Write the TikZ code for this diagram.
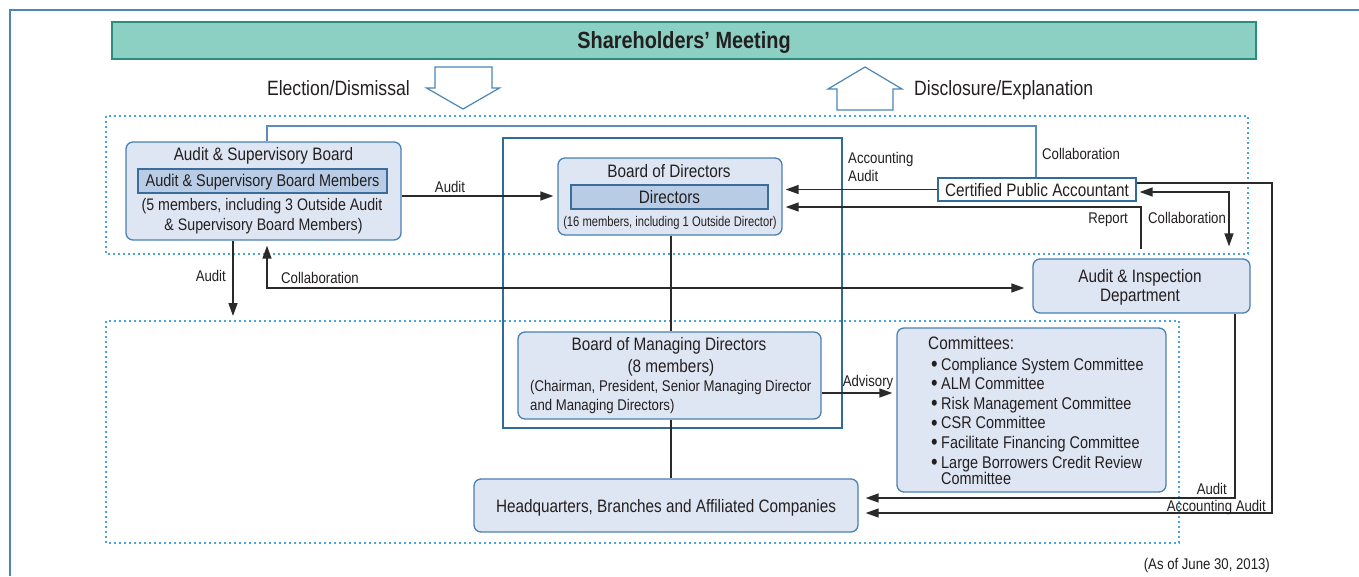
\documentclass[tikz,border=0pt]{standalone}
\usepackage{fontspec}
\setmainfont{Liberation Sans}[FakeStretch=0.85]
\usetikzlibrary{arrows.meta}

\definecolor{ink}{HTML}{231F20}
\definecolor{panelfill}{HTML}{DFE6F3}
\definecolor{panelline}{HTML}{4A80B2}
\definecolor{innerfill}{HTML}{B9CCE6}
\definecolor{innerline}{HTML}{3B6C9A}
\definecolor{dotblue}{HTML}{45A5DC}
\definecolor{edgeblue}{HTML}{4A86B6}
\definecolor{framedark}{HTML}{2F6B9B}
\definecolor{meetfill}{HTML}{8BD0C3}
\definecolor{meetline}{HTML}{2D8C7E}
\definecolor{wire}{HTML}{2A2A2A}
\definecolor{liaison}{HTML}{5A8DBD}

\newcommand\sz[1]{\fontsize{#1}{#1}\selectfont}
% bullet of the committee list, a little larger than the text
\newcommand\combullet{\makebox[10pt][l]{\raisebox{-1.5pt}{\sz{22}•}}}

\tikzset{
  every node/.style={inner sep=0pt, text=ink},
  panel/.style={draw=panelline, fill=panelfill, line width=1.3pt, rounded corners=7pt},
  innerpanel/.style={draw=innerline, fill=innerfill, line width=1.2pt},
  region/.style={draw=dotblue, line width=2pt, dash pattern=on 2pt off 3pt},
  conn/.style={draw=wire, line width=1.4pt},
  arr/.style={conn, -{Triangle[length=13pt,width=9pt]}},
  biarr/.style={conn, {Triangle[length=13pt,width=9pt]}-{Triangle[length=13pt,width=9pt]}},
  hollow/.style={draw=edgeblue, fill=white, line width=1.2pt, line join=miter},
  lbl/.style={font=\sz{15.5}},
  main/.style={font=\sz{18}},
}

\begin{document}
\begin{tikzpicture}[x=1pt, y=-1pt]
\useasboundingbox (0,0) rectangle (1359,576);

% outer page frame
\draw[edgeblue, line width=2.4pt] (10,576) -- (10,10) -- (1359,10);

% shareholders' meeting bar
\node[draw=meetline, fill=meetfill, line width=1.5pt, minimum width=1144pt, minimum height=37pt] (meet) at (684,40.5) {};
\node[anchor=base, font=\bfseries\sz{23.4}] (meetT) at (684,48.5) {Shareholders’ Meeting};

% block arrows
\draw[hollow] (435,67) -- (492,67) -- (492,88) -- (499.5,88) -- (463,109) -- (426.5,88) -- (435,88) -- cycle;
\draw[hollow] (865,67) -- (902,89) -- (893,89) -- (893,110) -- (837,110) -- (837,89) -- (828,89) -- cycle;
\node[anchor=base east, font=\sz{20.7}] (elT) at (410,95) {Election/Dismissal};
\node[anchor=base west, font=\sz{20.7}] (diT) at (914,95) {Disclosure/Explanation};

% dotted regions
\draw[region] (106,116) rectangle (1248,254);
\draw[region] (106,321) rectangle (1179,543);

% board frame
\draw[framedark, line width=1.3pt] (503,138) rectangle (842,428);

% panels
\node[panel, minimum width=275pt, minimum height=98pt] (asb) at (263.5,191) {};
\node[innerpanel, minimum width=249pt, minimum height=24pt] (asbm) at (262.5,181) {};
\node[panel, minimum width=224pt, minimum height=77pt] (bod) at (670,196.5) {};
\node[innerpanel, minimum width=197pt, minimum height=24pt] (dir) at (669.5,197) {};
\node[draw=framedark, fill=white, line width=1.3pt, minimum width=198pt, minimum height=23pt] (cpa) at (1037,189.5) {};
\node[panel, minimum width=217pt, minimum height=54pt] (aid) at (1141.5,286) {};
\node[panel, minimum width=303pt, minimum height=87pt] (bmd) at (669.5,375.5) {};
\node[panel, minimum width=269pt, minimum height=164pt] (com) at (1031.5,410) {};
\node[panel, minimum width=384pt, minimum height=53pt] (hq) at (666,505.5) {};

% helper points for bends and rows
\coordinate (liaisonL) at (267,126);
\coordinate (liaisonR) at (1036,126);
\coordinate (auditRow) at (0,196);
\coordinate (reportBend) at (1141,207);
\coordinate (collabBend) at (1229,192);
\coordinate (accBendA) at (1272,183);
\coordinate (accBendB) at (1272,513);
\coordinate (audBend) at (1235,498);
\coordinate (auditEnd) at (233,316);
\coordinate (collabLow) at (267,288);
\coordinate (spine) at (671,0);
\coordinate (advRow) at (0,393);

% connectors
\draw[liaison, line width=2pt] (asb.north -| liaisonL) -- (liaisonL) -- (liaisonR) -- (cpa.north -| liaisonR);
\draw[arr, shorten >=4pt] (asb.east |- auditRow) -- (bod.west |- auditRow);
\draw[arr, shorten >=3pt] (cpa.west) -- (bod.east |- cpa.west);
\draw[arr, shorten <=9pt, shorten >=3pt] (aid.north -| reportBend) -- (reportBend) -- (bod.east |- reportBend);
\draw[biarr, shorten <=3pt, shorten >=12pt] (cpa.east |- collabBend) -- (collabBend) -- (aid.north -| collabBend);
\draw[arr, shorten >=7pt] (cpa.east |- accBendA) -- (accBendA) -- (accBendB) -- (hq.east |- accBendB);
\draw[arr, shorten >=7pt] (aid.south -| audBend) -- (audBend) -- (hq.east |- audBend);
\draw[arr] (asb.south -| auditEnd) -- (auditEnd);
\draw[biarr, shorten <=8pt, shorten >=5pt] (aid.west |- collabLow) -- (collabLow) -- (asb.south -| collabLow);
\draw[conn] (bod.south -| spine) -- (bmd.north -| spine);
\draw[conn] (bmd.south -| spine) -- (hq.north -| spine);
\draw[arr, shorten >=4pt] (bmd.east |- advRow) -- (com.west |- advRow);

% panel texts
\node[anchor=base, main] (asbT) at (263.5,160.7) {Audit \& Supervisory Board};
\node[anchor=base, font=\sz{17}] (asbmT) at (262.5,186.7) {Audit \& Supervisory Board Members};
\node[anchor=base, font=\sz{16.7}] (asbL1) at (262,210.7) {(5 members, including 3 Outside Audit};
\node[anchor=base, font=\sz{16.7}] (asbL2) at (263.5,230) {\& Supervisory Board Members)};

\node[anchor=base, main] (bodT) at (669,177.3) {Board of Directors};
\node[anchor=base, main] (dirT) at (669.5,203.3) {Directors};
\node[anchor=base, font=\sz{14}\addfontfeature{FakeStretch=0.8}] (bodS) at (670,226.7) {(16 members, including 1 Outside Director)};

\node[anchor=base, main] (cpaT) at (1037,196) {Certified Public Accountant};

\node[anchor=base, main] (aidT1) at (1140,282.7) {Audit \& Inspection};
\node[anchor=base, main] (aidT2) at (1140,301.7) {Department};

\node[anchor=base, main] (bmdT1) at (669,350) {Board of Managing Directors};
\node[anchor=base, main] (bmdT2) at (671,372.3) {(8 members)};
\node[anchor=base west, lbl] (bmdT3) at (530,391.7) {(Chairman, President, Senior Managing Director};
\node[anchor=base west, lbl] (bmdT4) at (530,410) {and Managing Directors)};

\node[anchor=base west, main] (comT) at (928,349.3) {Committees:};
\foreach \n/\yb/\item in {1/370/Compliance System Committee, 2/389.3/ALM Committee, 3/409.3/Risk Management Committee, 4/428.7/CSR Committee, 5/448.3/Facilitate Financing Committee, 6/468.3/Large Borrowers Credit Review}{
  \node[anchor=base west, font=\sz{17}] (com\n) at (931,\yb) {\combullet\item};
}
\node[anchor=base west, font=\sz{17}] (com7) at (941,484.3) {Committee};

\node[anchor=base, main] (hqT) at (666,512.3) {Headquarters, Branches and Affiliated Companies};

% connector labels
\node[anchor=base, lbl] (lAudit1) at (450,192) {Audit};
\node[anchor=base west, lbl] (lAcc1) at (848,163.3) {Accounting};
\node[anchor=base west, lbl] (lAcc2) at (848,181.7) {Audit};
\node[anchor=base west, lbl] (lCol1) at (1042,159.3) {Collaboration};
\node[anchor=base east, lbl] (lRep) at (1128,223.3) {Report};
\node[anchor=base west, lbl] (lCol2) at (1148,223.3) {Collaboration};
\node[anchor=base east, lbl] (lAudit2) at (226,281.7) {Audit};
\node[anchor=base west, lbl] (lCol3) at (281,283.3) {Collaboration};
\node[anchor=base, lbl] (lAdv) at (868,386.7) {Advisory};
\node[anchor=base east, lbl] (lAudit3) at (1227,494) {Audit};
\node[anchor=base east, lbl] (lAcc3) at (1266,511) {Accounting Audit};

\node[anchor=base east, lbl] (asOf) at (1270,569.3) {(As of June 30, 2013)};
\end{tikzpicture}
\end{document}
